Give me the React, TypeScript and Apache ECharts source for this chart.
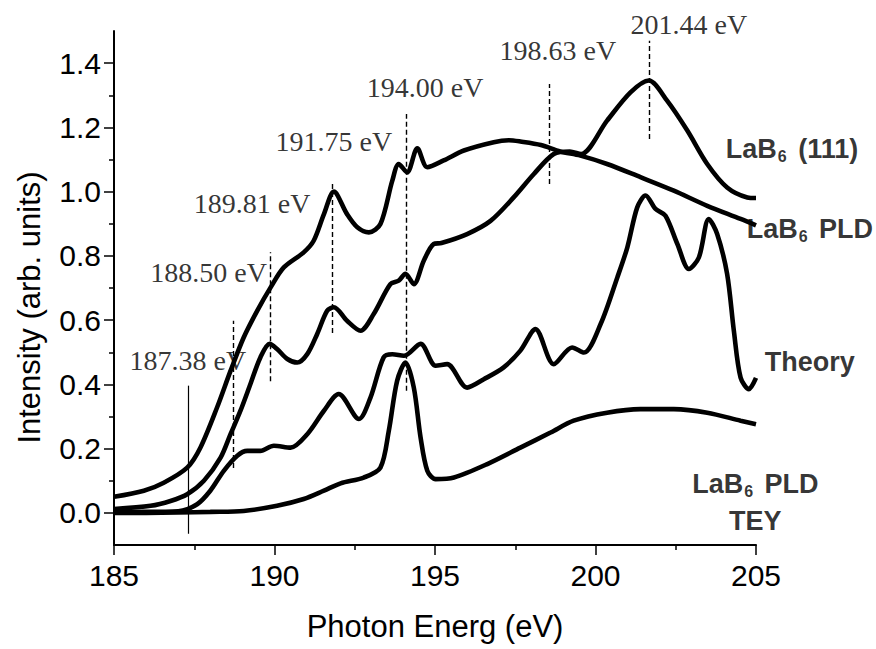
import React, { useEffect, useRef } from "react";
import * as echarts from "echarts";

// ---- Data ----
const pldX = [185, 185.93, 186.55, 187.28, 187.69, 188.21, 188.63, 189.04, 189.46, 189.88, 190.29, 190.91, 191.22, 191.54, 191.85, 192.26, 192.58, 192.94, 193.3, 193.67, 193.87, 194.13, 194.45, 194.76, 195.27, 195.9, 196.83, 197.3, 197.66, 198.3, 198.9, 199.53, 200.36, 201.4, 202.44, 203.48, 204.52, 205];
const pldY = [0.05, 0.069, 0.094, 0.141, 0.203, 0.328, 0.442, 0.546, 0.629, 0.702, 0.764, 0.811, 0.847, 0.93, 1.0, 0.93, 0.889, 0.873, 0.899, 1.034, 1.086, 1.06, 1.135, 1.076, 1.097, 1.128, 1.154, 1.16, 1.156, 1.145, 1.125, 1.112, 1.086, 1.045, 1.003, 0.956, 0.915, 0.895];

const lab111X = [185, 186.14, 186.76, 187.28, 187.8, 188.32, 188.63, 188.94, 189.25, 189.56, 189.85, 190.08, 190.4, 190.71, 191.02, 191.33, 191.64, 191.85, 192.26, 192.68, 193.09, 193.61, 193.87, 194.08, 194.34, 194.65, 194.96, 195.2, 196.0, 196.73, 197.45, 198.08, 198.7, 199.2, 199.55, 200.36, 201.09, 201.66, 202.23, 202.86, 203.48, 204.1, 204.73, 205];
const lab111Y = [0.012, 0.022, 0.037, 0.058, 0.1, 0.172, 0.245, 0.318, 0.401, 0.484, 0.526, 0.51, 0.479, 0.468, 0.494, 0.557, 0.629, 0.64, 0.598, 0.567, 0.619, 0.712, 0.723, 0.744, 0.712, 0.785, 0.837, 0.84, 0.868, 0.909, 0.982, 1.055, 1.117, 1.125, 1.117, 1.221, 1.309, 1.346, 1.283, 1.19, 1.086, 1.013, 0.982, 0.98];

const theoryX = [185, 186, 187, 187.59, 188.0, 188.42, 188.84, 189.15, 189.56, 189.98, 190.5, 191.02, 191.54, 192.0, 192.63, 192.99, 193.4, 193.67, 194.03, 194.55, 195.02, 195.38, 196.0, 196.52, 197.14, 197.66, 198.13, 198.7, 199.27, 199.64, 200.16, 200.68, 200.99, 201.3, 201.56, 201.87, 202.18, 202.55, 202.91, 203.22, 203.53, 203.79, 204.1, 204.31, 204.52, 204.78, 205];
const theoryY = [0.003, 0.003, 0.005, 0.027, 0.069, 0.131, 0.178, 0.193, 0.193, 0.209, 0.203, 0.245, 0.318, 0.37, 0.292, 0.359, 0.484, 0.494, 0.489, 0.526, 0.458, 0.463, 0.39, 0.416, 0.453, 0.505, 0.572, 0.463, 0.515, 0.499, 0.588, 0.733, 0.826, 0.951, 0.988, 0.946, 0.925, 0.837, 0.759, 0.795, 0.915, 0.868, 0.744, 0.567, 0.421, 0.385, 0.42];

const teyX = [185, 186, 187, 188, 189.04, 190.08, 190.91, 191.54, 192.06, 192.78, 193.3, 193.56, 193.82, 194.08, 194.34, 194.55, 194.76, 195.02, 195.59, 196.63, 197.66, 198.6, 199.32, 200.36, 201.4, 202.44, 203.48, 204.52, 205];
const teyY = [0.0, 0.0, 0.001, 0.003, 0.006, 0.022, 0.043, 0.069, 0.092, 0.11, 0.141, 0.255, 0.411, 0.468, 0.39, 0.235, 0.131, 0.105, 0.11, 0.152, 0.203, 0.25, 0.287, 0.312, 0.323, 0.323, 0.312, 0.287, 0.276];

// energy markers
const markerEnergies = [187.3, 188.73, 189.88, 191.8, 194.11, 198.55, 201.69];
const markerBottoms = [-0.065, 0.14, 0.41, 0.56, 0.38, 1.024, 1.164];
const markerTops = [0.396, 0.598, 0.811, 1.025, 1.242, 1.335, 1.47];
const markerLabels = ["187.38 eV", "188.50 eV", "189.81 eV", "191.75 eV", "194.00 eV", "198.63 eV", "201.44 eV"];
const markerLabelX = [187.3, 187.95, 189.3, 191.85, 194.69, 198.83, 202.91];
const markerLabelY = [0.474, 0.749, 0.963, 1.156, 1.324, 1.439, 1.52];

// curve name labels
const curveLabels = [
  "{b|LaB}{s|6}{b| (111)}",
  "{b|LaB}{s|6}{b| PLD}",
  "{b|Theory}",
  "{b|LaB}{s|6}{b| PLD}\n{b|TEY}",
];
const curveLabelX = [204.06, 204.71, 205.27, 204.98];
const curveLabelY = [1.134, 0.885, 0.47, 0.033];
const curveLabelAlign = ["left", "left", "left", "center"];

// axis ticks
const xMin = 185, xMax = 205, xStep = 5;
const yMin = 0, yMax = 1.4, yStep = 0.2;
const yFrameMin = -0.1, yFrameMax = 1.5;

const zip = (xs: number[], ys: number[]) => xs.map((x, i) => [x, ys[i]]);

const SANS = "'Liberation Sans', Arial, Helvetica, sans-serif";
const SERIF = "'Liberation Serif', 'Times New Roman', serif";

export default function App() {
  const ref = useRef<HTMLDivElement>(null);
  useEffect(() => {
    if (!ref.current) return;
    const chart = echarts.init(ref.current, undefined, { renderer: "svg" });

    const gridLeft = 114, gridTop = 31, gridW = 642, gridH = 514;
    const pxPerUnit = gridH / (yFrameMax - yFrameMin);
    const g2Top = gridTop + (yFrameMax - yMax) * pxPerUnit;
    const g2H = (yMax - yMin) * pxPerUnit;

    const curveStyle = { color: "#000", width: 4.6 };
    const lineBase = {
      type: "line",
      xAxisIndex: 0,
      yAxisIndex: 0,
      showSymbol: false,
      symbol: "none",
      smooth: 0.3,
      silent: true,
      lineStyle: curveStyle,
      z: 3,
    };

    const option: any = {
      animation: false,
      backgroundColor: "#fff",
      grid: [
        { left: gridLeft, top: gridTop, width: gridW, height: gridH },
        { left: gridLeft, top: g2Top, width: gridW, height: g2H },
      ],
      xAxis: [
        {
          gridIndex: 0,
          type: "value",
          min: xMin,
          max: xMax,
          interval: xStep,
          axisLine: { onZero: false, lineStyle: { color: "#000", width: 2 } },
          axisTick: { show: true, length: 10, lineStyle: { color: "#000", width: 1.5 } },
          minorTick: { show: true, splitNumber: 2, length: 5, lineStyle: { color: "#000", width: 1.5 } },
          splitLine: { show: false },
          minorSplitLine: { show: false },
          axisLabel: { color: "#000", fontFamily: SANS, fontSize: 30, margin: 15 },
          name: "Photon Energ (eV)",
          nameLocation: "middle",
          nameGap: 66,
          nameTextStyle: { color: "#000", fontFamily: SANS, fontSize: 31 },
        },
        { gridIndex: 1, type: "value", min: xMin, max: xMax, show: false },
      ],
      yAxis: [
        {
          gridIndex: 0,
          type: "value",
          min: yFrameMin,
          max: yFrameMax,
          axisLine: { show: true, onZero: false, lineStyle: { color: "#000", width: 2 } },
          axisTick: { show: false },
          axisLabel: { show: false },
          splitLine: { show: false },
        },
        {
          gridIndex: 1,
          type: "value",
          min: yMin,
          max: yMax,
          interval: yStep,
          axisLine: { show: false, onZero: false },
          axisTick: { show: true, length: 10, lineStyle: { color: "#000", width: 1.5 } },
          minorTick: { show: true, splitNumber: 2, length: 5, lineStyle: { color: "#000", width: 1.5 } },
          splitLine: { show: false },
          minorSplitLine: { show: false },
          axisLabel: {
            color: "#000",
            fontFamily: SANS,
            fontSize: 30,
            margin: 13,
            formatter: (v: number) => v.toFixed(1),
          },
          name: "Intensity (arb. units)",
          nameLocation: "middle",
          nameGap: 69,
          nameTextStyle: { color: "#000", fontFamily: SANS, fontSize: 31, padding: [0, 39, 0, 0] },
        },
      ],
      series: [
        { ...lineBase, name: "LaB6 PLD", data: zip(pldX, pldY) },
        { ...lineBase, name: "LaB6 (111)", data: zip(lab111X, lab111Y) },
        {
          ...lineBase,
          name: "Theory",
          data: zip(theoryX, theoryY),
          markLine: {
            silent: true,
            symbol: ["none", "none"],
            label: { show: false },
            lineStyle: { color: "#000", width: 1.4, type: [5, 3] },
            data: markerEnergies.map((e, i) => [
              {
                coord: [e, markerBottoms[i]],
                lineStyle: i === 0 ? { type: "solid", width: 1.2, color: "#000" } : { type: [5, 3], width: 1.4, color: "#000" },
              },
              { coord: [e, markerTops[i]] },
            ]),
          },
        },
        { ...lineBase, name: "LaB6 PLD TEY", data: zip(teyX, teyY) },
        {
          type: "scatter",
          name: "markerLabels",
          xAxisIndex: 0,
          yAxisIndex: 0,
          clip: false,
          silent: true,
          symbolSize: 1,
          itemStyle: { color: "rgba(0,0,0,0)" },
          data: markerLabelX.map((x, i) => [x, markerLabelY[i]]),
          label: {
            show: true,
            position: "inside",
            color: "#000",
            fontFamily: SERIF,
            fontSize: 28,
            formatter: (p: any) => markerLabels[p.dataIndex],
          },
          z: 5,
        },
        {
          type: "scatter",
          name: "curveLabels",
          xAxisIndex: 0,
          yAxisIndex: 0,
          clip: false,
          silent: true,
          symbolSize: 1,
          itemStyle: { color: "rgba(0,0,0,0)" },
          data: curveLabelX.map((x, i) => ({
            value: [x, curveLabelY[i]],
            label: { align: curveLabelAlign[i] },
          })),
          label: {
            show: true,
            position: "inside",
            color: "#000",
            formatter: (p: any) => curveLabels[p.dataIndex],
            rich: {
              b: { fontFamily: SANS, fontSize: 27, fontWeight: "bold", color: "#000", lineHeight: 37 },
              s: { fontFamily: SANS, fontSize: 16, fontWeight: "bold", color: "#000", lineHeight: 18, padding: [16, 4, 0, 1] },
            },
          },
          z: 5,
        },
      ],
    };

    chart.setOption(option);
    return () => chart.dispose();
  }, []);

  return (
    <div
      ref={ref}
      style={{ position: "absolute", left: 0, top: 0, width: 876, height: 649, background: "#fff" }}
    />
  );
}
